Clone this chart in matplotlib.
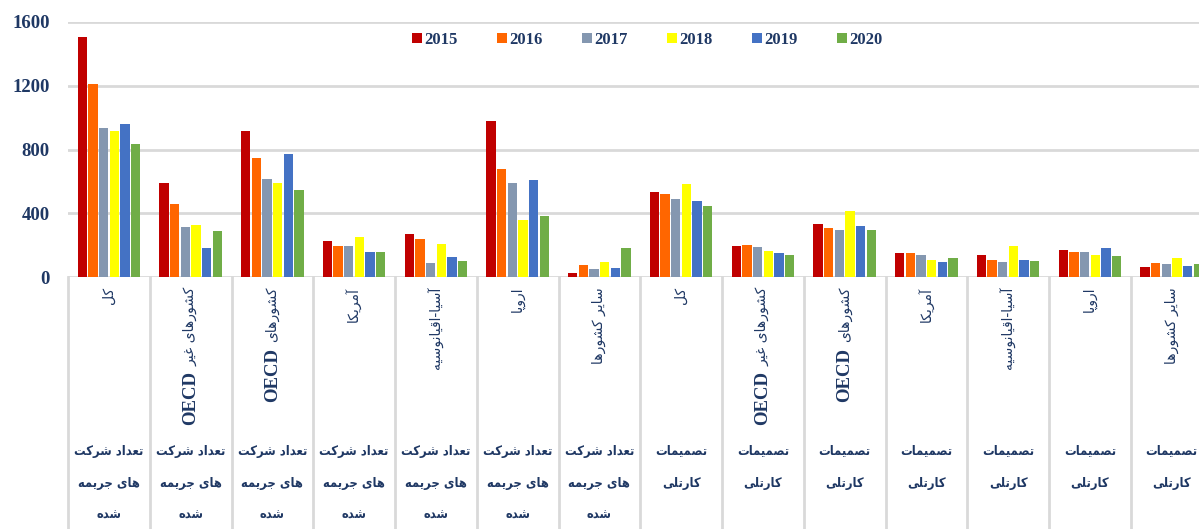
import re
import numpy as np
import matplotlib
matplotlib.use("Agg")
import matplotlib.pyplot as plt
from matplotlib.transforms import blended_transform_factory
from matplotlib.lines import Line2D

# ---------------- data ----------------
years = ["2015", "2016", "2017", "2018", "2019", "2020"]
inner_labels = ["کل", "کشورهای غیر OECD", "کشورهای OECD", "آمریکا", "آسیا-اقیانوسیه", "اروپا", "سایر کشورها",
                "کل", "کشورهای غیر OECD", "کشورهای OECD", "آمریکا", "آسیا-اقیانوسیه", "اروپا", "سایر کشورها"]
outer_label_a = ["تعداد شرکت", "های جریمه", "شده"]
outer_label_b = ["تصمیمات", "کارتلی"]
outer_labels = [outer_label_a] * 7 + [outer_label_b] * 7

v2015 = [1508, 589, 917, 225, 269, 981, 23, 531, 197, 330, 149, 141, 168, 63]
v2016 = [1210, 457, 745, 197, 241, 677, 75, 518, 199, 308, 153, 105, 160, 86]
v2017 = [935, 313, 614, 197, 86, 589, 48, 487, 189, 294, 141, 97, 155, 80]
v2018 = [917, 325, 591, 250, 206, 359, 92, 585, 164, 413, 105, 195, 138, 120]
v2019 = [958, 180, 772, 155, 124, 608, 57, 474, 149, 321, 97, 109, 185, 72]
v2020 = [837, 287, 547, 160, 99, 382, 185, 443, 141, 298, 118, 99, 130, 84]
series = [v2015, v2016, v2017, v2018, v2019, v2020]
colors = ["#C00000", "#FF6600", "#8497B0", "#FFFF00", "#4472C4", "#70AD47"]

NAVY = "#1F3864"
GRID = "#D9D9D9"

# ---------------- Persian shaping (presentation forms) ----------------
FORMS = {
    'ا': ('\uFE8D', '\uFE8E', None, None),
    'آ': ('\uFE81', '\uFE82', None, None),
    'ب': ('\uFE8F', '\uFE90', '\uFE91', '\uFE92'),
    'پ': ('\uFB56', '\uFB57', '\uFB58', '\uFB59'),
    'ت': ('\uFE95', '\uFE96', '\uFE97', '\uFE98'),
    'ج': ('\uFE9D', '\uFE9E', '\uFE9F', '\uFEA0'),
    'د': ('\uFEA9', '\uFEAA', None, None),
    'ر': ('\uFEAD', '\uFEAE', None, None),
    'س': ('\uFEB1', '\uFEB2', '\uFEB3', '\uFEB4'),
    'ش': ('\uFEB5', '\uFEB6', '\uFEB7', '\uFEB8'),
    'ص': ('\uFEB9', '\uFEBA', '\uFEBB', '\uFEBC'),
    'ع': ('\uFEC9', '\uFECA', '\uFECB', '\uFECC'),
    'غ': ('\uFECD', '\uFECE', '\uFECF', '\uFED0'),
    'ق': ('\uFED5', '\uFED6', '\uFED7', '\uFED8'),
    'ک': ('\uFB8E', '\uFB8F', '\uFB90', '\uFB91'),
    'ل': ('\uFEDD', '\uFEDE', '\uFEDF', '\uFEE0'),
    'م': ('\uFEE1', '\uFEE2', '\uFEE3', '\uFEE4'),
    'ن': ('\uFEE5', '\uFEE6', '\uFEE7', '\uFEE8'),
    'و': ('\uFEED', '\uFEEE', None, None),
    'ه': ('\uFEE9', '\uFEEA', '\uFEEB', '\uFEEC'),
    'ی': ('\uFBFC', '\uFBFD', '\uFBFE', '\uFBFF'),
}


def shape(word):
    out = []
    n = len(word)
    for i, c in enumerate(word):
        if c not in FORMS:
            out.append(c)
            continue
        prev = word[i - 1] if i > 0 else None
        nxt = word[i + 1] if i < n - 1 else None
        jp = prev in FORMS and FORMS[prev][2] is not None
        jn = FORMS[c][2] is not None and nxt in FORMS
        iso, fin, ini, med = FORMS[c]
        out.append(med if (jp and jn) else fin if jp else ini if jn else iso)
    return ''.join(out)


def rtl(s):
    runs = re.findall(r'[A-Za-z0-9]+|[^A-Za-z0-9]+', s)
    vis = []
    for r in runs[::-1]:
        if re.match(r'[A-Za-z0-9]', r):
            vis.append(r)
        else:
            vis.append(shape(r)[::-1])
    return ''.join(vis)


# ---------------- figure ----------------
W, H = 1199, 529
fig = plt.figure(figsize=(W / 100, H / 100), dpi=100)
ax_left, ax_right, ax_top, ax_bot = 68, 1212.5, 22, 277
ax = fig.add_axes([ax_left / W, 1 - ax_bot / H, (ax_right - ax_left) / W, (ax_bot - ax_top) / H])

n = len(inner_labels)
x = np.arange(n)
slot = 0.783 / len(series)
for j, (vals, col, yr) in enumerate(zip(series, colors, years)):
    ax.bar(x + (j - 2.5) * slot, vals, width=slot * 0.87, color=col, label=yr, zorder=3)

ax.set_xlim(-0.5, n - 0.5)
ax.set_ylim(0, 1600)
ax.set_yticks([0, 400, 800, 1200, 1600])
ax.yaxis.grid(True, color=GRID, linewidth=2, zorder=0)
ax.set_axisbelow(True)
for sp in ax.spines.values():
    sp.set_visible(False)
ax.set_xticks([])
ax.tick_params(axis='y', length=0, pad=13, labelsize=13.5, labelcolor=NAVY)
for lab in ax.get_yticklabels():
    lab.set_fontfamily('Liberation Serif')
    lab.set_fontweight('bold')

leg = ax.legend(loc='center', bbox_to_anchor=(647 / W, 1 - 40 / H), bbox_transform=fig.transFigure,
                ncol=6, frameon=False, handlelength=0.6, handleheight=0.6, handletextpad=0.15,
                columnspacing=2.35, prop={'family': 'Liberation Serif', 'weight': 'bold', 'size': 12})
for t in leg.get_texts():
    t.set_color(NAVY)

# separators
trans = blended_transform_factory(ax.transData, fig.transFigure)
for k in range(n + 1):
    fig.add_artist(Line2D([k - 0.5, k - 0.5], [1 - ax_bot / H, 0], transform=trans,
                          color=GRID, linewidth=2, clip_on=False))

# labels
fig.canvas.draw()
renderer = fig.canvas.get_renderer()
top_y = 1 - 287 / H
for i, lab in enumerate(inner_labels):
    if 'OECD' in lab:
        fa = lab.replace('OECD', '').strip()
        t = fig.text(i, top_y, rtl(fa), transform=trans, rotation=90, ha='center', va='top',
                     fontsize=10, family='DejaVu Sans', color=NAVY)
        bb = t.get_window_extent(renderer)
        y2 = (bb.y0 - 5) / H
        fig.text(i, y2, 'OECD', transform=trans, rotation=90, ha='center', va='top',
                 fontsize=13.5, family='Liberation Serif', weight='bold', color=NAVY)
    else:
        fig.text(i, top_y, rtl(lab), transform=trans, rotation=90, ha='center', va='top',
                 fontsize=10, family='DejaVu Sans', color=NAVY)

line_ys = [451, 483, 515]
for i, lines in enumerate(outer_labels):
    for ln, yy in zip(lines, line_ys):
        fig.text(i, 1 - yy / H, rtl(ln), transform=trans, ha='center', va='center',
                 fontsize=9.3, family='DejaVu Sans', stretch='condensed', weight='bold', color=NAVY)

fig.savefig('out.png', dpi=100)
